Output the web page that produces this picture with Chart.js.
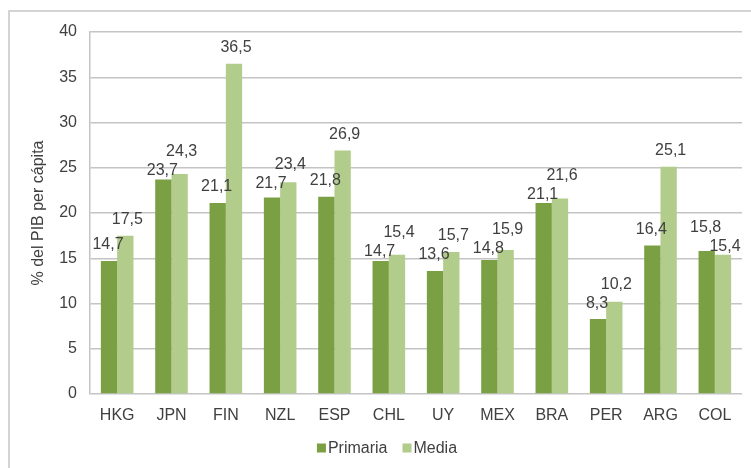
<!DOCTYPE html>
<html>
<head>
<meta charset="utf-8">
<script src="https://cdn.jsdelivr.net/npm/chart.js@4"></script>
<style>
  html, body { margin: 0; padding: 0; background: #fff; }
  #wrap { position: relative; width: 751px; height: 468px; }
  #frame { position: absolute; left: 8px; top: 10px; width: 760px; height: 480px;
           border: 2px solid #d4d4d4; box-sizing: border-box; }
  canvas { position: absolute; left: 0; top: 0; }
</style>
</head>
<body>
<div id="wrap">
  <div id="frame"></div>
  <canvas id="chart" width="751" height="468"></canvas>
</div>
<script>
const countries = ['HKG', 'JPN', 'FIN', 'NZL', 'ESP', 'CHL', 'UY', 'MEX', 'BRA', 'PER', 'ARG', 'COL'];
const primaria = [14.7, 23.7, 21.1, 21.7, 21.8, 14.7, 13.6, 14.8, 21.1, 8.3, 16.4, 15.8];
const media = [17.5, 24.3, 36.5, 23.4, 26.9, 15.4, 15.7, 15.9, 21.6, 10.2, 25.1, 15.4];
const yTicks = [0, 5, 10, 15, 20, 25, 30, 35, 40];

const FONT = '"Liberation Sans", Arial, sans-serif';

// value labels above each bar (comma decimals); pairs that would collide get pulled apart
const barLabels = {
  id: 'barLabels',
  afterDatasetsDraw(chart) {
    const ctx = chart.ctx;
    const a = chart.getDatasetMeta(0).data;
    const b = chart.getDatasetMeta(1).data;
    const sets = chart.data.datasets;
    ctx.save();
    ctx.font = '16px ' + FONT;
    ctx.fillStyle = '#404040';
    ctx.textAlign = 'center';
    ctx.textBaseline = 'middle';
    a.forEach((barA, i) => {
      const barB = b[i];
      let ya = barA.y - 16, yb = barB.y - 16;
      if (Math.abs(ya - yb) < 19) {
        const mid = (ya + yb) / 2;
        if (ya <= yb) { ya = mid - 9.5; yb = mid + 9.5; }
        else { ya = mid + 9.5; yb = mid - 9.5; }
      }
      const fmt = v => v.toFixed(1).replace('.', ',');
      ctx.fillText(fmt(sets[0].data[i]), barA.x - 1, ya);
      ctx.fillText(fmt(sets[1].data[i]), barB.x + 2, yb);
    });
    ctx.restore();
  }
};

// small legend under the axis, Excel style
const smallLegend = {
  id: 'smallLegend',
  afterDraw(chart) {
    const ctx = chart.ctx;
    ctx.save();
    ctx.font = '16px ' + FONT;
    ctx.textBaseline = 'middle';
    const items = chart.data.datasets.map(d => ({ text: d.label, color: d.backgroundColor }));
    const box = 9, gap = 2, space = 15;
    let total = 0;
    items.forEach((it, i) => {
      it.w = ctx.measureText(it.text).width;
      total += box + gap + it.w + (i ? space : 0);
    });
    let x = 387 - total / 2;
    const y = 448;
    items.forEach(it => {
      ctx.fillStyle = it.color;
      ctx.fillRect(x, y - box / 2, box, box);
      ctx.fillStyle = '#404040';
      ctx.fillText(it.text, x + box + gap, y + 1);
      x += box + gap + it.w + space;
    });
    ctx.restore();
  }
};

new Chart(document.getElementById('chart'), {
  type: 'bar',
  data: {
    labels: countries,
    datasets: [
      { label: 'Primaria', data: primaria, backgroundColor: '#7ba043' },
      { label: 'Media', data: media, backgroundColor: '#b2cc8c' }
    ]
  },
  options: {
    responsive: false,
    animation: false,
    layout: { padding: { top: 32, right: 9, bottom: 37, left: 0 } },
    datasets: { bar: { categoryPercentage: 0.6, barPercentage: 1 } },
    plugins: {
      legend: { display: false },
      tooltip: { enabled: false }
    },
    scales: {
      x: {
        grid: { display: false, drawTicks: false },
        border: { display: false },
        ticks: { color: '#404040', padding: 12, font: { size: 16, family: FONT } },
        afterFit(s) { s.height = 37; }
      },
      y: {
        min: 0, max: 40,
        afterBuildTicks(s) { s.ticks = yTicks.map(v => ({ value: v })); },
        grid: { color: '#c4c4c4', lineWidth: 1.5, drawTicks: false },
        border: { display: true, color: '#c4c4c4', width: 1.5 },
        ticks: { color: '#404040', padding: 13, font: { size: 16, family: FONT } },
        title: { display: true, text: '% del PIB per cápita', color: '#404040',
                 padding: { top: 29, bottom: 0 },
                 font: { size: 16, family: FONT } },
        afterFit(s) { s.width = 90; }
      }
    }
  },
  plugins: [barLabels, smallLegend]
});
</script>
</body>
</html>
